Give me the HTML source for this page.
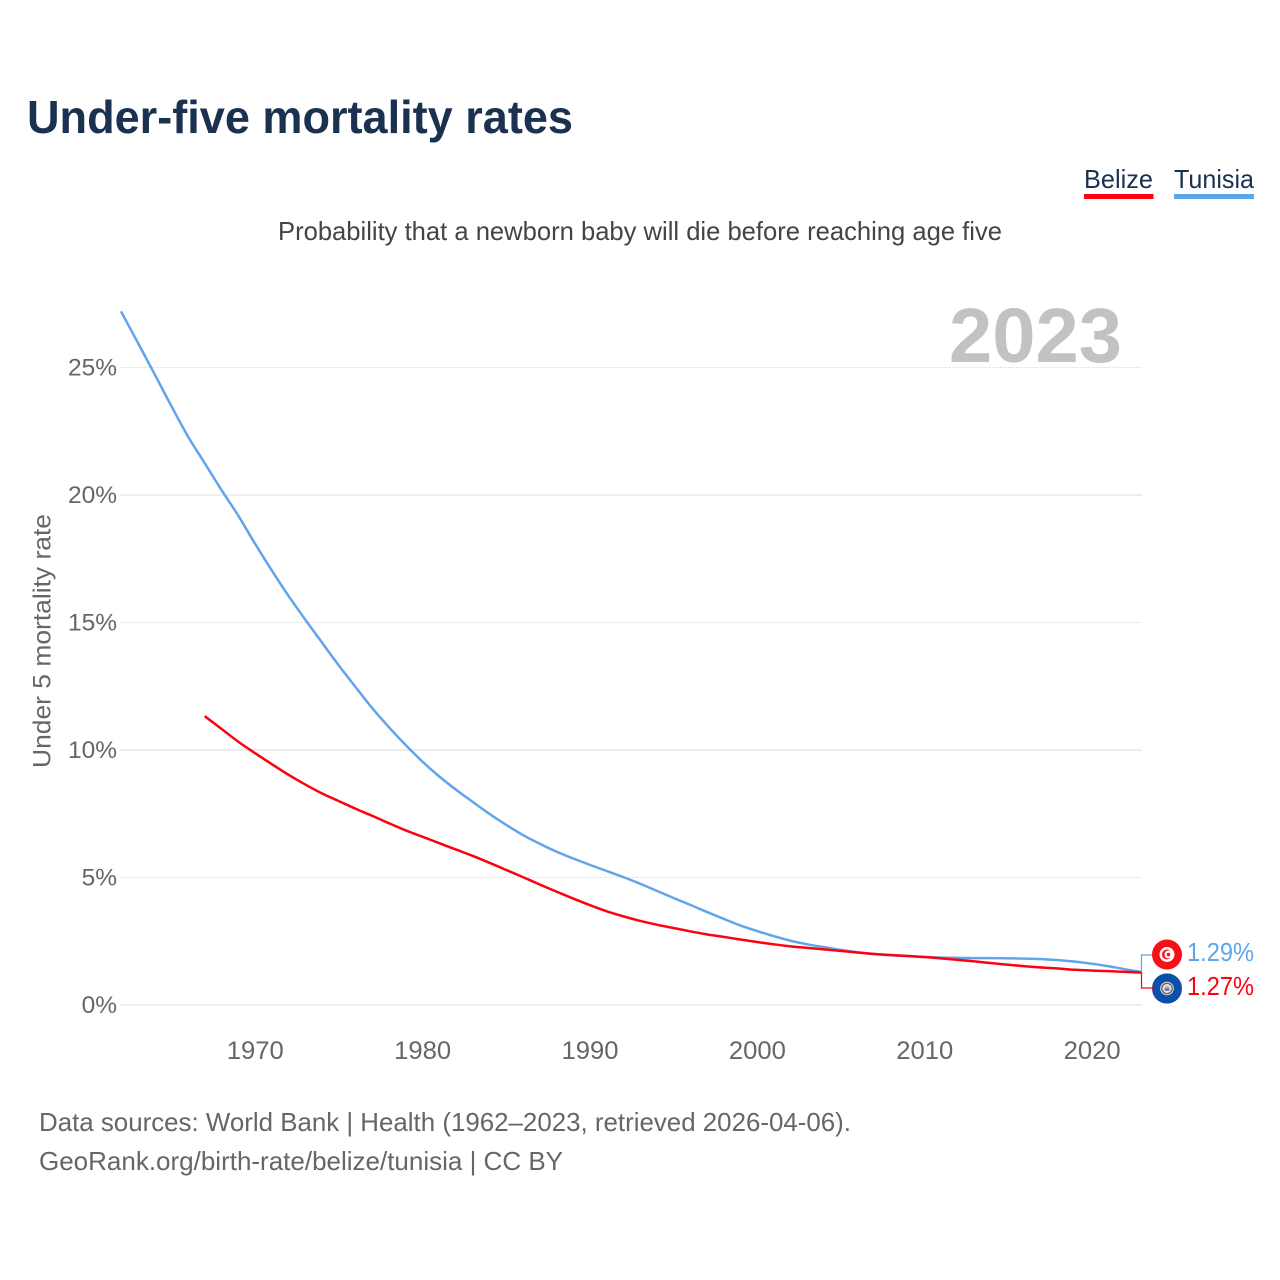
<!DOCTYPE html>
<html lang="en">
<head>
<meta charset="utf-8">
<title>Under-five mortality rates</title>
<style>
html,body{margin:0;padding:0;background:#fff}
svg{display:block}
text{font-family:"Liberation Sans",sans-serif}
</style>
</head>
<body>
<svg id="chart" width="1280" height="1280" viewBox="0 0 1280 1280" xmlns="http://www.w3.org/2000/svg">
  <rect width="1280" height="1280" fill="#fff"/>
  <text x="27" y="133" font-size="46" font-weight="700" fill="#1a3150" textLength="546" lengthAdjust="spacingAndGlyphs">Under-five mortality rates</text>
  <text x="278" y="240" font-size="26" fill="#444" textLength="724" lengthAdjust="spacingAndGlyphs">Probability that a newborn baby will die before reaching age five</text>
  <g>
    <text x="1084" y="188" font-size="26" fill="#1a3150" textLength="69" lengthAdjust="spacingAndGlyphs">Belize</text>
    <rect x="1084" y="194" width="69.5" height="5" fill="#ff0011"/>
  </g>
  <g>
    <text x="1174" y="188" font-size="26" fill="#1a3150" textLength="80" lengthAdjust="spacingAndGlyphs">Tunisia</text>
    <rect x="1174" y="194" width="80" height="5" fill="#60a5ec"/>
  </g>
  <text x="949" y="362" font-size="77" font-weight="700" fill="#c2c2c2" textLength="173" lengthAdjust="spacingAndGlyphs">2023</text>
  <text transform="translate(50.5 768) rotate(-90)" font-size="25" fill="#666" textLength="254" lengthAdjust="spacingAndGlyphs">Under 5 mortality rate</text>
  <g id="grid"></g>
  <g id="yticks"></g>
  <g id="xticks"></g>
  <g id="series"></g>
  <g id="ends"></g>
  <text x="39" y="1131" font-size="26" fill="#666" textLength="812" lengthAdjust="spacingAndGlyphs">Data sources: World Bank | Health (1962–2023, retrieved 2026-04-06).</text>
  <text x="39" y="1170" font-size="26" fill="#666" textLength="524" lengthAdjust="spacingAndGlyphs">GeoRank.org/birth-rate/belize/tunisia | CC BY</text>
</svg>
<script>
const tunisiaStartYear = 1962;
const tunisiaValues = [27.2,25.98,24.75,23.5,22.3,21.25,20.2,19.2,18.1,17.05,16.05,15.12,14.22,13.33,12.48,11.65,10.9,10.2,9.55,8.97,8.45,7.97,7.5,7.07,6.67,6.33,6.02,5.75,5.5,5.26,5.02,4.76,4.48,4.2,3.93,3.65,3.38,3.12,2.9,2.7,2.52,2.38,2.27,2.16,2.07,2.0,1.95,1.92,1.88,1.86,1.85,1.84,1.84,1.83,1.82,1.8,1.76,1.7,1.62,1.52,1.4,1.29];
const belizeStartYear = 1967;
const belizeValues = [11.33,10.83,10.33,9.88,9.45,9.03,8.65,8.3,8.0,7.7,7.42,7.13,6.85,6.6,6.35,6.1,5.85,5.58,5.3,5.02,4.73,4.45,4.18,3.92,3.68,3.48,3.3,3.15,3.02,2.89,2.77,2.67,2.57,2.47,2.38,2.3,2.24,2.18,2.12,2.06,2.0,1.96,1.92,1.88,1.83,1.77,1.71,1.64,1.58,1.52,1.47,1.43,1.38,1.35,1.33,1.3,1.27];
const yTicks = [0,5,10,15,20,25];
const xTicks = [1970,1980,1990,2000,2010,2020];

const NS = 'http://www.w3.org/2000/svg';
const xOf = year => 121 + (year - 1962) * (1142 - 121) / 61;
const yOf = value => 1005 - value * 25.5;

function make(tag, attrs, parent, content) {
  const el = document.createElementNS(NS, tag);
  for (const k in attrs) el.setAttribute(k, attrs[k]);
  if (content !== undefined) el.textContent = content;
  parent.appendChild(el);
  return el;
}

const gridG = document.getElementById('grid');
const yG = document.getElementById('yticks');
yTicks.forEach(t => {
  const odd = t % 10 !== 0;
  const line = make('line', {x1: 120, x2: 1142, y1: yOf(t), y2: yOf(t), stroke: odd ? '#e8e8e8' : '#eeeeee', 'stroke-width': odd ? 1 : 2}, gridG);
  if (odd) line.setAttribute('stroke-dasharray', '3 1');
  
  
  const label = make('text', {x: 117, y: yOf(t) + 8, 'font-size': 24.5, fill: '#666', 'text-anchor': 'end'}, yG, t + '%');
  
  
});

const xG = document.getElementById('xticks');
xTicks.forEach(t => {
  const label = make('text', {x: xOf(t) + 0.4, y: 1059, 'font-size': 25, fill: '#666', 'text-anchor': 'middle', textLength: 57, lengthAdjust: 'spacingAndGlyphs'}, xG, String(t));
  
  
});

function pathFor(values, startYear) {
  const pts = values.map((v, i) => [xOf(startYear + i), yOf(v)]);
  let d = 'M' + pts[0][0].toFixed(2) + ' ' + pts[0][1].toFixed(2);
  for (let i = 0; i < pts.length - 1; i++) {
    const p0 = pts[Math.max(i - 1, 0)], p1 = pts[i], p2 = pts[i + 1], p3 = pts[Math.min(i + 2, pts.length - 1)];
    const c1x = p1[0] + (p2[0] - p0[0]) / 6, c1y = p1[1] + (p2[1] - p0[1]) / 6;
    const c2x = p2[0] - (p3[0] - p1[0]) / 6, c2y = p2[1] - (p3[1] - p1[1]) / 6;
    d += 'C' + c1x.toFixed(2) + ' ' + c1y.toFixed(2) + ' ' + c2x.toFixed(2) + ' ' + c2y.toFixed(2) + ' ' + p2[0].toFixed(2) + ' ' + p2[1].toFixed(2);
  }
  return d;
}
const seriesG = document.getElementById('series');
const tunisiaLine = make('path', {d: pathFor(tunisiaValues, tunisiaStartYear), fill: 'none', stroke: '#60a5ec', 'stroke-width': 2.5, 'stroke-linejoin': 'round'}, seriesG);


const belizeLine = make('path', {d: pathFor(belizeValues, belizeStartYear), fill: 'none', stroke: '#ff0011', 'stroke-width': 2.5, 'stroke-linejoin': 'round'}, seriesG);



const endsG = document.getElementById('ends');
const tunisiaLast = tunisiaValues[tunisiaValues.length - 1];
const belizeLast = belizeValues[belizeValues.length - 1];
const connT = make('path', {d: 'M1141.5 ' + yOf(tunisiaLast) + 'V955H1153', fill: 'none', stroke: '#60a5ec', 'stroke-width': 1.2}, endsG);


const connB = make('path', {d: 'M1141.5 ' + yOf(belizeLast) + 'V988H1153', fill: 'none', stroke: '#ff0011', 'stroke-width': 1.2}, endsG);



const flagT = make('g', {}, endsG);


make('circle', {cx: 1167, cy: 954.5, r: 15, fill: '#f80f17'}, flagT);
make('circle', {cx: 1167, cy: 954.5, r: 7.5, fill: '#fff'}, flagT);
make('circle', {cx: 1167, cy: 954.5, r: 5, fill: '#f80f17'}, flagT);
make('circle', {cx: 1168.5, cy: 954.5, r: 4, fill: '#fff'}, flagT);
make('circle', {cx: 1168.5, cy: 954.5, r: 1.8, fill: '#f80f17'}, flagT);

const flagB = make('g', {}, endsG);


make('circle', {cx: 1167, cy: 988.5, r: 15, fill: '#ce1126'}, flagB);
make('path', {d: 'M1152.7 984A15 15 0 0 1 1181.3 984V993A15 15 0 0 1 1152.7 993Z', fill: '#0a4fa8'}, flagB);
make('circle', {cx: 1167, cy: 988.5, r: 6.8, fill: '#e6e6e6'}, flagB);
make('circle', {cx: 1167, cy: 988.5, r: 5.2, fill: 'none', stroke: '#666', 'stroke-width': 1.4}, flagB);
make('circle', {cx: 1167, cy: 988.5, r: 2.6, fill: '#e89a8f'}, flagB);
make('rect', {x: 1164.6, y: 988.5, width: 4.8, height: 2.2, fill: '#4a78b8'}, flagB);

const endT = make('text', {x: 1187, y: 961, 'font-size': 25.5, fill: '#60a5ec', textLength: 67, lengthAdjust: 'spacingAndGlyphs'}, endsG, tunisiaLast.toFixed(2) + '%');


const endB = make('text', {x: 1187, y: 995, 'font-size': 25.5, fill: '#ff0011', textLength: 67, lengthAdjust: 'spacingAndGlyphs'}, endsG, belizeLast.toFixed(2) + '%');


</script>
</body>
</html>
